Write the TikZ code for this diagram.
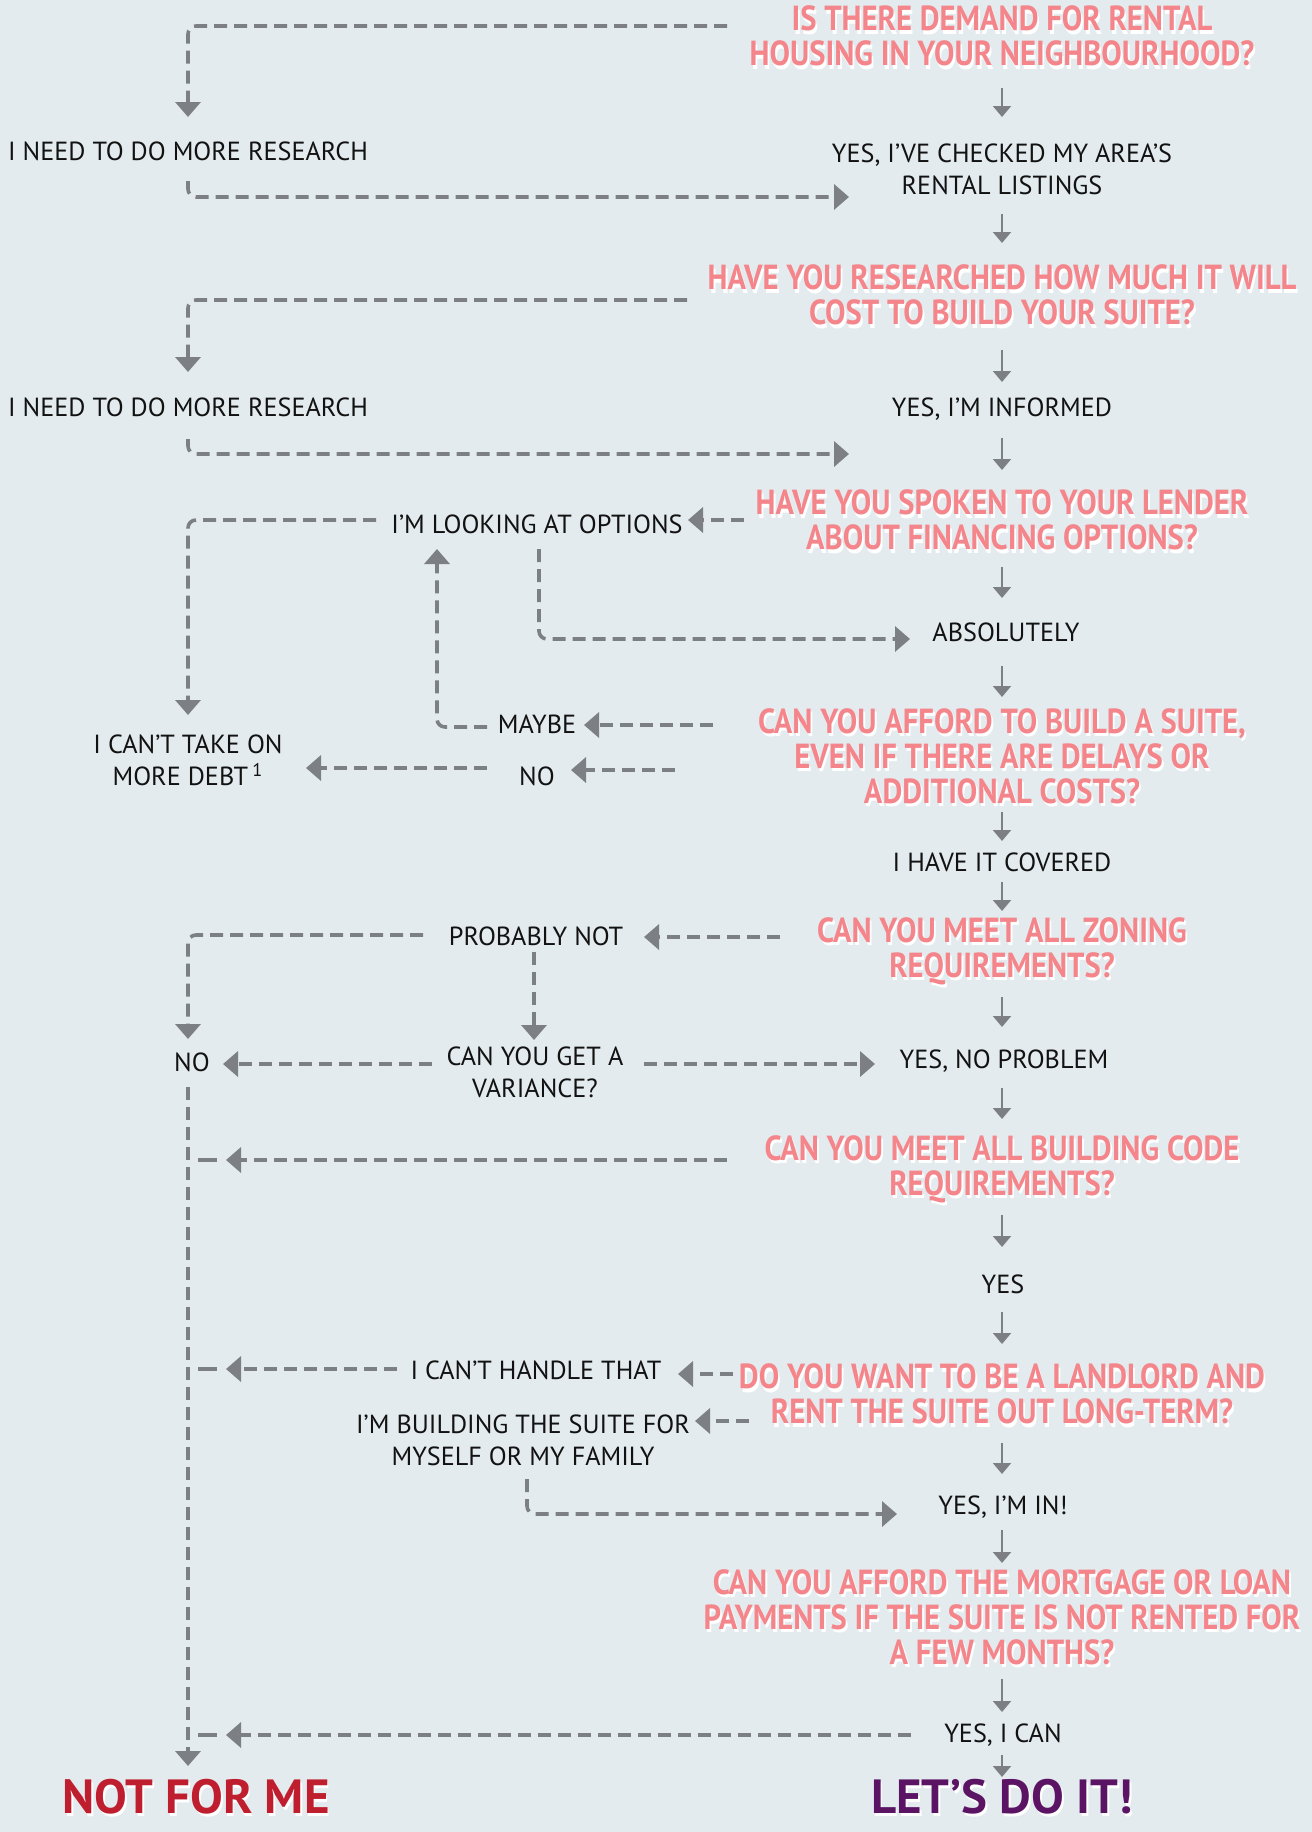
\documentclass[tikz,border=0pt]{standalone}
\usepackage{fontspec}
\setmainfont{PT Sans}
\newfontfamily\qfont{PT Sans}[FakeStretch=0.88]
\newfontfamily\endfont{PT Sans}[FakeStretch=1.02]
\usetikzlibrary{arrows.meta,calc}
\definecolor{bg}{HTML}{E3EBEE}
\definecolor{qred}{HTML}{F4858B}
\definecolor{arrowgray}{HTML}{7C8085}
\definecolor{nored}{HTML}{BE1E2D}
\definecolor{yespurple}{HTML}{5B1464}
\definecolor{ink}{HTML}{121212}
\newcommand{\sh}[1]{\leavevmode\rlap{\kern0.9pt\raisebox{-1.7pt}{\color{white}#1}}{#1}}
\begin{document}
\begin{tikzpicture}[x=0.5pt,y=-0.5pt,
  lbl/.style={text=ink, font=\fontsize{13.1}{16}\selectfont, align=center, inner sep=0pt},
  qst/.style={text=qred, font=\qfont\bfseries\fontsize{17.4}{17.5}\selectfont, align=center, inner sep=0pt},
  endlbl/.style={font=\endfont\bfseries\fontsize{24}{25}\selectfont, inner sep=0pt},
  solidarr/.style={draw=arrowgray, line width=1pt, -{Triangle[length=5.5pt,width=9pt]}},
  dline/.style={draw=arrowgray, line width=1.8pt, dash pattern=on 6.5pt off 3.5pt, rounded corners=4pt},
  darr/.style={dline, -{Triangle[length=7.5pt,width=12.5pt]}},
  stub/.style={draw=arrowgray, line width=1.8pt},
]
\fill[bg] (0,0) rectangle (1312,1832);
\useasboundingbox (0,0) rectangle (1312,1832);

% main column
\node[qst] (q1) at (1002,38) {\sh{IS THERE DEMAND FOR RENTAL}\\\sh{HOUSING IN YOUR NEIGHBOURHOOD?}};
\node[lbl] (a1) at (1002,169) {YES, I’VE CHECKED MY AREA’S\\RENTAL LISTINGS};
\node[qst] (q2) at (1002,297) {\sh{HAVE YOU RESEARCHED HOW MUCH IT WILL}\\\sh{COST TO BUILD YOUR SUITE?}};
\node[lbl] (a2) at (1002,409) {YES, I’M INFORMED};
\node[qst] (q3) at (1002,522) {\sh{HAVE YOU SPOKEN TO YOUR LENDER}\\\sh{ABOUT FINANCING OPTIONS?}};
\node[lbl] (a3) at (1006,632) {ABSOLUTELY};
\node[qst] (q4) at (1002,758) {\sh{CAN YOU AFFORD TO BUILD A SUITE,}\\\sh{EVEN IF THERE ARE DELAYS OR}\\\sh{ADDITIONAL COSTS?}};
\node[lbl] (a4) at (1002,862) {I HAVE IT COVERED};
\node[qst] (q5) at (1002,953) {\sh{CAN YOU MEET ALL ZONING}\\\sh{REQUIREMENTS?}};
\node[lbl] (a5) at (1004,1061) {YES, NO PROBLEM};
\node[qst] (q6) at (1002,1171) {\sh{CAN YOU MEET ALL BUILDING CODE}\\\sh{REQUIREMENTS?}};
\node[lbl] (a6) at (1003,1284) {YES};
\node[qst] (q7) at (1002,1396) {\sh{DO YOU WANT TO BE A LANDLORD AND}\\\sh{RENT THE SUITE OUT LONG-TERM?}};
\node[lbl] (a7) at (1003,1507) {YES, I’M IN!};
\node[qst] (q8) at (1002,1619) {\sh{CAN YOU AFFORD THE MORTGAGE OR LOAN}\\\sh{PAYMENTS IF THE SUITE IS NOT RENTED FOR}\\\sh{A FEW MONTHS?}};
\node[lbl] (a8) at (1003,1735) {YES, I CAN};
\node[endlbl, text=yespurple] (yes) at (1002,1798) {\sh{LET’S DO IT!}};
\node[endlbl, text=nored] (notme) at (196,1798) {\sh{NOT FOR ME}};

% side nodes
\node[lbl] (r1) at (188,151) {I NEED TO DO MORE RESEARCH};
\node[lbl] (r2) at (188,407) {I NEED TO DO MORE RESEARCH};
\node[lbl] (opt) at (537,524) {I’M LOOKING AT OPTIONS};
\node[lbl] (debt) at (188,760) {I CAN’T TAKE ON\\MORE DEBT\,\textsuperscript{1}};
\node[lbl] (maybe) at (537,724) {MAYBE};
\node[lbl] (no1) at (537,776) {NO};
\node[lbl] (prob) at (536,936) {PROBABLY NOT};
\node[lbl] (no2) at (192,1062) {NO};
\node[lbl] (var) at (535,1072) {CAN YOU GET A\\VARIANCE?};
\node[lbl] (cant) at (536,1370) {I CAN’T HANDLE THAT};
\node[lbl] (self) at (523,1440) {I’M BUILDING THE SUITE FOR\\MYSELF OR MY FAMILY};

% main solid arrows
\draw[solidarr] ($(q1)+(0,50)$) -- ($(a1)+(0,-52)$);
\draw[solidarr] ($(a1)+(0,45)$) -- ($(q2)+(0,-54)$);
\draw[solidarr] ($(q2)+(0,53)$) -- ($(a2)+(0,-27)$);
\draw[solidarr] ($(a2)+(0,29)$) -- ($(q3)+(0,-52)$);
\draw[solidarr] ($(q3)+(0,45)$) -- ($(a3)+(-4,-34)$);
\draw[solidarr] ($(a3)+(-4,34)$) -- ($(q4)+(0,-61)$);
\draw[solidarr] ($(q4)+(0,54)$) -- ($(a4)+(0,-21)$);
\draw[solidarr] ($(a4)+(0,20)$) -- ($(q5)+(0,-42)$);
\draw[solidarr] ($(q5)+(0,44)$) -- ($(a5)+(-2,-34)$);
\draw[solidarr] ($(a5)+(-2,27)$) -- ($(q6)+(0,-52)$);
\draw[solidarr] ($(q6)+(0,44)$) -- ($(a6)+(-1,-37)$);
\draw[solidarr] ($(a6)+(-1,28)$) -- ($(q7)+(0,-52)$);
\draw[solidarr] ($(q7)+(0,47)$) -- ($(a7)+(-1,-33)$);
\draw[solidarr] ($(a7)+(-1,23)$) -- ($(q8)+(0,-56)$);
\draw[solidarr] ($(q8)+(0,60)$) -- ($(a8)+(-1,-23)$);
\draw[solidarr] ($(a8)+(-1,20)$) -- ($(yes)+(0,-21)$);

% dashed connectors
\draw[darr] ($(q1)+(-275,-12)$) -| ($(r1)+(0,-34)$);
\draw[darr] ($(r1)+(0,30)$) |- ($(a1)+(-153,28)$);
\draw[darr] ($(q2)+(-315,3)$) -| ($(r2)+(0,-35)$);
\draw[darr] ($(r2)+(0,32)$) |- ($(a2)+(-153,45)$);
\draw[darr] ($(q3)+(-258,-2)$) -- ($(opt)+(151,-4)$);
\draw[darr] ($(opt)+(-161,-4)$) -| ($(debt)+(0,-45)$);
\draw[darr] ($(opt)+(2,25)$) |- ($(a3)+(-96,7)$);
\draw[darr] ($(q4)+(-289,-33)$) -- ($(maybe)+(47,1)$);
\draw[darr] ($(maybe)+(-50,3)$) -| ($(opt)+(-100,25)$);
\draw[darr] ($(q4)+(-327,12)$) -- ($(no1)+(34,-6)$);
\draw[darr] ($(no1)+(-50,-8)$) -- ($(debt)+(118,8)$);
\draw[darr] ($(q5)+(-222,-16)$) -- ($(prob)+(108,1)$);
\draw[darr] ($(prob)+(-113,-1)$) -| ($(no2)+(-4,-23)$);
\draw[darr] ($(prob)+(-2,16)$) -- ($(var)+(-1,-32)$);
\draw[darr] ($(var)+(-103,-8)$) -- ($(no2)+(31,2)$);
\draw[darr] ($(var)+(109,-8)$) -- ($(a5)+(-129,3)$);
\draw[darr] ($(no2)+(-4,25)$) -- ($(notme)+(-8,-32)$);
\draw[darr] ($(q6)+(-275,-11)$) -- ($(no2)+(34,98)$);
\draw[stub] ($(no2)+(6,98)$) -- ($(no2)+(25,98)$);
\draw[darr] ($(q7)+(-269,-22)$) -- ($(cant)+(142,4)$);
\draw[darr] ($(cant)+(-139,-1)$) -- ($(no2)+(34,307)$);
\draw[stub] ($(no2)+(6,307)$) -- ($(no2)+(25,307)$);
\draw[darr] ($(q7)+(-253,25)$) -- ($(self)+(172,-19)$);
\draw[darr] ($(self)+(4,39)$) |- ($(a7)+(-106,7)$);
\draw[darr] ($(a8)+(-92,0)$) -- ($(no2)+(34,673)$);
\draw[stub] ($(no2)+(6,673)$) -- ($(no2)+(25,673)$);
\end{tikzpicture}
\end{document}
